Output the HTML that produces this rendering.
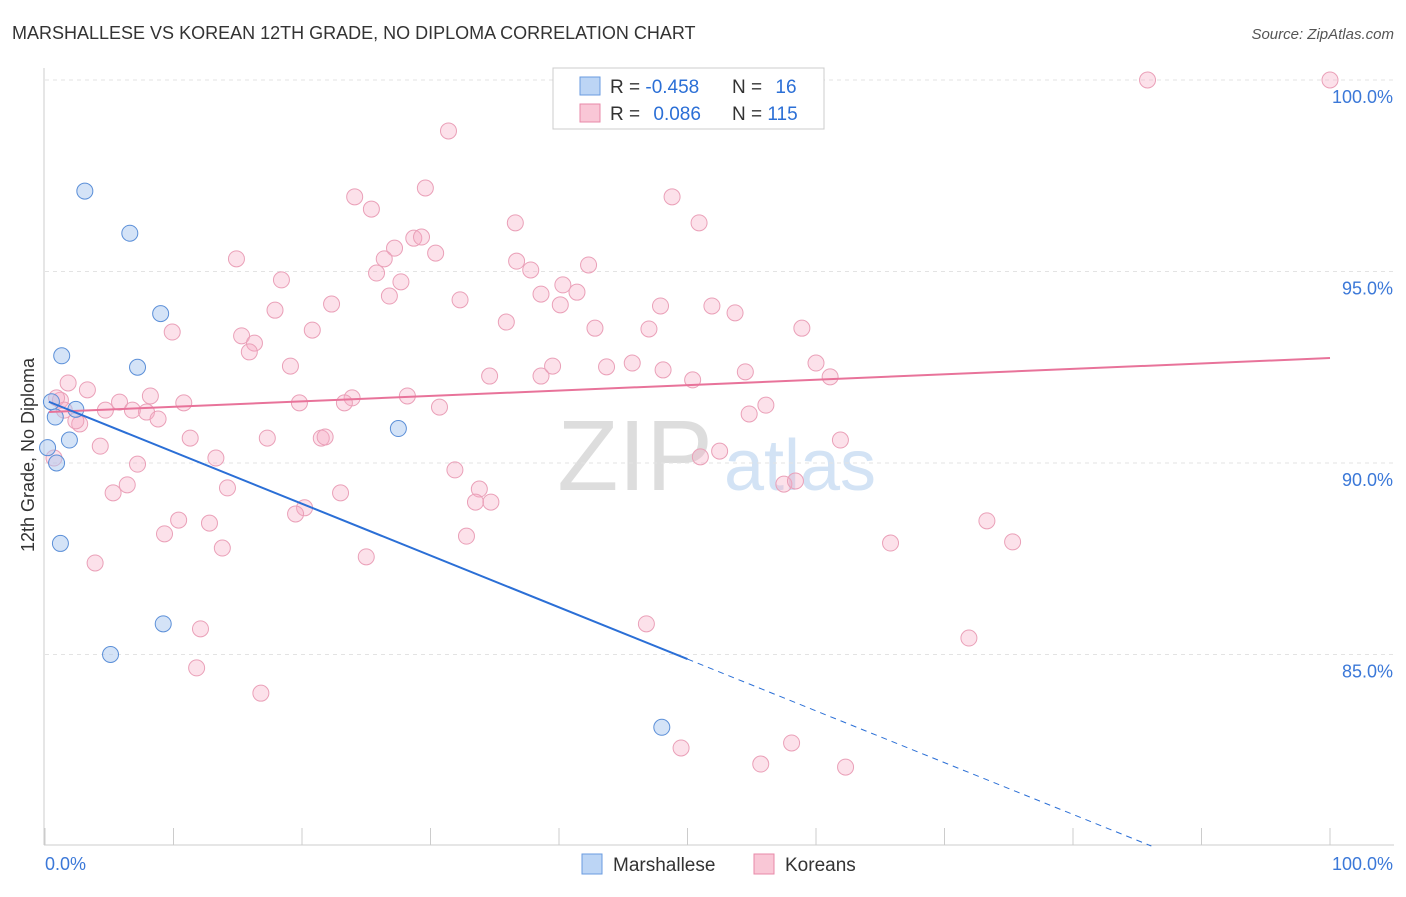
<!DOCTYPE html>
<html><head><meta charset="utf-8">
<style>
body{margin:0;background:#fff;font-family:"Liberation Sans",sans-serif;}
svg text{font-family:"Liberation Sans",sans-serif;}
</style></head>
<body>
<svg id="chart" width="1406" height="892" xmlns="http://www.w3.org/2000/svg">
<text x="12" y="39" font-size="18" fill="#333">MARSHALLESE VS KOREAN 12TH GRADE, NO DIPLOMA CORRELATION CHART</text>
<text x="1394" y="39" font-size="15" fill="#555" text-anchor="end" font-style="italic">Source: ZipAtlas.com</text>
<g>
<text x="635" y="490" font-size="100" fill="#ddd" text-anchor="middle" font-family="Liberation Serif">ZIP</text>
<text x="800" y="490" font-size="72" fill="#d3e3f5" text-anchor="middle">atlas</text>
</g>
<g id="grid"></g>
<g id="axes"></g>
<g id="marks"></g>
<g>
<rect x="553" y="68" width="271" height="61" fill="#fff" stroke="#ccc"/>
<rect x="580" y="77" width="20" height="18" fill="#bcd5f5" stroke="#6a9be0"/>
<rect x="580" y="104" width="20" height="18" fill="#f9c7d6" stroke="#e88aa8"/>
<text x="610" y="93" font-size="19" fill="#333">R = <tspan fill="#2b6fd6">-0.458</tspan></text>
<text x="732" y="93" font-size="19" fill="#333">N = <tspan fill="#2b6fd6" dx="8">16</tspan></text>
<text x="610" y="120" font-size="19" fill="#333">R = <tspan fill="#2b6fd6" dx="8">0.086</tspan></text>
<text x="732" y="120" font-size="19" fill="#333">N = <tspan fill="#2b6fd6">115</tspan></text>
</g>
<g>
<rect x="582" y="854" width="20" height="20" fill="#bcd5f5" stroke="#6a9be0"/>
<text x="613" y="871" font-size="19" fill="#333">Marshallese</text>
<rect x="754" y="854" width="20" height="20" fill="#f9c7d6" stroke="#e88aa8"/>
<text x="785" y="871" font-size="19" fill="#333">Koreans</text>
</g>
<text transform="translate(34,455) rotate(-90)" font-size="18" fill="#333" text-anchor="middle">12th Grade, No Diploma</text>
</svg>
<script>
const yTicks=[100,95,90,85];
const yTickLabels=["100.0%","95.0%","90.0%","85.0%"];
const xTickLabels=["0.0%","100.0%"];
const blueX=[3.1,6.6,9.0,1.3,7.2,0.5,2.4,0.8,1.9,0.2,0.9,27.5,1.2,9.2,5.1,48.0];
const blueY=[97.1,96.0,93.9,92.8,92.5,91.6,91.4,91.2,90.6,90.4,90.0,90.9,87.9,85.8,85.0,83.1];
const pinkPx=[[568,80],[1147,80],[1330,80],[449,131],[426,188],[355,197],[371,209],[672,197],[699,223],[515,223],[414,238],[422,237],[395,248],[435,253],[236,259],[384,259],[517,261],[377,273],[531,270],[589,265],[281,280],[401,282],[563,285],[577,292],[389,296],[460,300],[332,304],[541,294],[660,306],[712,306],[560,305],[275,310],[735,313],[506,322],[172,332],[312,330],[595,328],[649,329],[802,328],[242,336],[255,343],[249,352],[290,366],[553,366],[606,367],[632,363],[663,370],[745,372],[816,363],[489,376],[541,376],[692,380],[830,377],[68,383],[88,390],[151,396],[352,398],[407,396],[60,400],[120,402],[184,403],[299,403],[345,403],[106,410],[132,410],[147,412],[439,407],[766,405],[158,419],[80,424],[749,414],[76,421],[190,438],[267,438],[321,438],[325,437],[100,446],[841,440],[216,458],[54,458],[700,457],[719,451],[138,464],[455,470],[228,488],[479,489],[127,485],[113,493],[340,493],[784,484],[796,481],[475,502],[491,502],[304,508],[296,514],[179,520],[209,523],[987,521],[165,534],[466,536],[1013,542],[891,543],[222,548],[366,557],[95,563],[646,624],[201,629],[969,638],[197,668],[261,693],[681,748],[791,743],[761,764],[845,767],[56,398],[64,410]];
// data values derived from visual reading (percent units)
const pinkX=pinkPx.map(p=>+((p[0]-45)/12.85).toFixed(1));
const pinkY=pinkPx.map(p=>+(100-(p[1]-80)/38.3).toFixed(2));
const pinkLine=[91.33,92.74];
const blueLine=[91.64,84.88];
const NS="http://www.w3.org/2000/svg";
const X=v=>45+v*12.85, Y=v=>80+(100-v)*38.3;
function el(t,a,p){const e=document.createElementNS(NS,t);for(const k in a)e.setAttribute(k,a[k]);document.getElementById(p).appendChild(e);return e;}
yTicks.forEach((t,i)=>{
 const g=el('line',{x1:45,x2:1394,y1:Y(t),y2:Y(t),stroke:'#e3e3e3','stroke-dasharray':'4,4'},'grid');
 
 
 const tx=el('text',{x:1393,y:Y(t)+23,'font-size':18,fill:'#3b78d8','text-anchor':'end'},'axes');
 tx.textContent=yTickLabels[i];
 
 
});
let a=el('line',{x1:44,x2:44,y1:68,y2:845,stroke:'#ccc'},'axes');


a=el('line',{x1:44,x2:1394,y1:845,y2:845,stroke:'#ccc'},'axes');


for(let i=0;i<=10;i++){const t=el('line',{x1:X(i*10),x2:X(i*10),y1:828,y2:845,stroke:'#ccc'},'axes');
 
 }
[[0,'start',45],[1,'end',1393]].forEach(([i,an,x])=>{const t=el('text',{x:x,y:870,'font-size':18,fill:'#3b78d8','text-anchor':an},'axes');t.textContent=xTickLabels[i];
 
 });
pinkX.forEach((x,i)=>{const c=el('circle',{cx:X(x),cy:Y(pinkY[i]),r:8,fill:'rgba(245,170,195,0.35)',stroke:'#eaa0b8','stroke-width':1},'marks');
 
 });
blueX.forEach((x,i)=>{const c=el('circle',{cx:X(x),cy:Y(blueY[i]),r:8,fill:'rgba(170,200,240,0.5)',stroke:'#5b8fd8','stroke-width':1},'marks');
 
 });
let l=el('line',{x1:X(0.3),y1:Y(pinkLine[0]),x2:X(100),y2:Y(pinkLine[1]),stroke:'#e8739a','stroke-width':2},'marks');


const bAt=v=>blueLine[0]+(blueLine[1]-blueLine[0])*v/50;
l=el('line',{x1:X(0.3),y1:Y(bAt(0.3)),x2:X(50),y2:Y(bAt(50)),stroke:'#2b6fd6','stroke-width':2},'marks');


const xe=(80-blueLine[0])/((blueLine[1]-blueLine[0])/50);
l=el('line',{x1:X(50),y1:Y(bAt(50)),x2:X(xe),y2:Y(80),stroke:'#2b6fd6','stroke-width':1,'stroke-dasharray':'6,5'},'marks');


</script>
</body></html>
